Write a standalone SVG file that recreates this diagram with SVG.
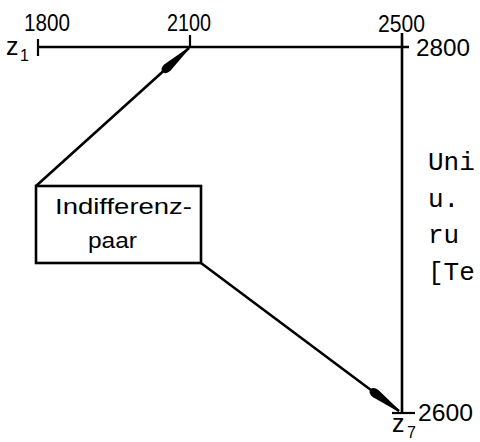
<svg xmlns="http://www.w3.org/2000/svg" width="480" height="442" viewBox="0 0 480 442">
  <style>
    .ax { stroke: #000; stroke-width: 2.6; fill: none; stroke-linecap: butt; }
    .tick { stroke: #000; stroke-width: 2.2; fill: none; }
    .num { font-family: "Liberation Sans", Arial, sans-serif; font-size: 24px; fill: #000; }
    .lbl { font-family: "Liberation Sans", Arial, sans-serif; font-size: 22px; fill: #000; }
    .sym { font-family: "Liberation Sans", Arial, sans-serif; font-size: 25px; fill: #000; }
    .sub { font-family: "Liberation Sans", Arial, sans-serif; font-size: 16px; fill: #000; }
    .mono { font-family: "Liberation Mono", "Courier New", monospace; font-size: 26px; fill: #000; }
    .box { stroke: #000; stroke-width: 2.6; fill: #fff; }
    .conn { stroke: #000; stroke-width: 2.6; fill: none; }
  </style>
  <defs>
    <!-- long slender arrowhead with a rounded tail -->
    <marker id="head" markerUnits="userSpaceOnUse" markerWidth="40" markerHeight="14" refX="36" refY="7" orient="auto" viewBox="0 0 40 14">
      <path d="M0,7 Q1,2.5 7,2.6 L36,6.2 L36,7.8 L7,11.4 Q1,11.5 0,7 Z" fill="#000"/>
    </marker>
  </defs>
  <rect width="480" height="442" fill="#fff"/>

  <!-- z1 axis (horizontal) -->
  <g id="axis-z1">
    <line class="ax" x1="38" y1="47" x2="409" y2="47"/>
    <line class="tick" x1="38" y1="39" x2="38" y2="56"/>
    <line class="tick" x1="190" y1="35" x2="190" y2="47"/>
    <text class="sym" x="6" y="55">z</text>
    <text class="sub" x="20" y="61">1</text>
    <text class="num" x="24" y="31" textLength="46" lengthAdjust="spacingAndGlyphs">1800</text>
    <text class="num" x="167" y="31" textLength="44" lengthAdjust="spacingAndGlyphs">2100</text>
    <text class="num" x="378" y="32" textLength="47" lengthAdjust="spacingAndGlyphs">2500</text>
    <text class="num" x="416" y="56" textLength="54" lengthAdjust="spacingAndGlyphs">2800</text>
  </g>

  <!-- z7 axis (vertical) -->
  <g id="axis-z7">
    <line class="ax" x1="402" y1="33" x2="402" y2="413"/>
    <line class="tick" x1="392" y1="413" x2="415" y2="413"/>
    <text class="num" x="418" y="421" textLength="55" lengthAdjust="spacingAndGlyphs">2600</text>
    <text class="sym" x="392" y="432">z</text>
    <text class="sub" x="407" y="438">7</text>
  </g>

  <!-- Indifference pair box -->
  <g id="indifferenzpaar">
    <rect class="box" x="36" y="186" width="165" height="77"/>
    <text class="lbl" x="55" y="214" textLength="137" lengthAdjust="spacingAndGlyphs">Indifferenz-</text>
    <text class="lbl" x="88" y="248" textLength="49" lengthAdjust="spacingAndGlyphs">paar</text>
  </g>

  <!-- connectors -->
  <g id="connectors">
    <line class="conn" x1="36" y1="186" x2="189" y2="48" marker-end="url(#head)"/>
    <line class="conn" x1="201" y1="263" x2="399" y2="411" marker-end="url(#head)"/>
  </g>

  <!-- side text -->
  <g id="side-text">
    <text class="mono" x="428" y="170">Uni</text>
    <text class="mono" x="428" y="207">u.</text>
    <text class="mono" x="428" y="243">ru</text>
    <text class="mono" x="428" y="280">[Te</text>
  </g>
</svg>
